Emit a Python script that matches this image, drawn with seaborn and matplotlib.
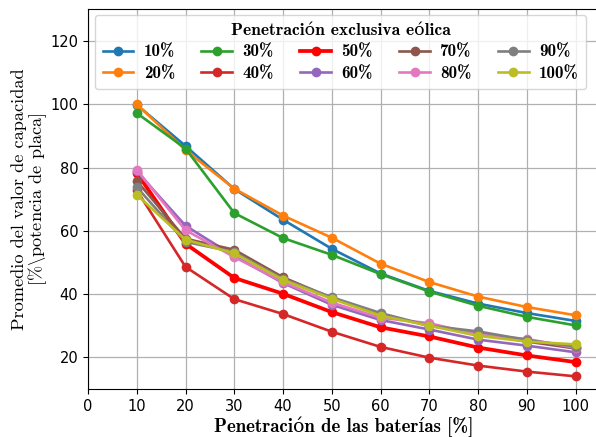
import matplotlib
matplotlib.use("Agg")
import matplotlib.pyplot as plt
import seaborn as sns
import pandas as pd

battery = [10, 20, 30, 40, 50, 60, 70, 80, 90, 100]
series_labels = ["10%", "20%", "30%", "40%", "50%", "60%", "70%", "80%", "90%", "100%"]
p10 = [99.8, 86.8, 73.2, 63.5, 54.3, 46.5, 41.0, 37.0, 34.0, 31.5]
p20 = [100.0, 85.5, 73.3, 64.8, 57.8, 49.6, 43.8, 39.2, 35.9, 33.3]
p30 = [97.2, 86.0, 65.6, 57.7, 52.4, 46.3, 40.8, 36.3, 32.8, 30.1]
p40 = [72.8, 48.6, 38.4, 33.7, 28.1, 23.3, 19.9, 17.4, 15.5, 14.0]
p50 = [78.3, 55.9, 45.1, 40.1, 34.3, 29.5, 26.6, 23.1, 20.6, 18.5]
p60 = [78.8, 61.6, 52.0, 43.5, 36.6, 31.8, 28.8, 25.6, 23.7, 21.6]
p70 = [75.8, 57.5, 54.0, 45.3, 38.8, 33.5, 30.0, 27.5, 25.0, 22.8]
p80 = [79.3, 60.2, 51.7, 43.8, 37.3, 32.5, 30.8, 27.2, 25.8, 23.0]
p90 = [73.8, 56.5, 53.3, 44.8, 39.0, 34.0, 30.0, 28.2, 25.5, 23.4]
p100 = [71.4, 57.2, 52.9, 44.5, 38.5, 33.2, 30.0, 26.8, 25.0, 24.1]
all_series = [p10, p20, p30, p40, p50, p60, p70, p80, p90, p100]

colors = ["#1f77b4", "#ff7f0e", "#2ca02c", "#d62728", "#ff0000",
          "#9467bd", "#8c564b", "#e377c2", "#7f7f7f", "#bcbd22"]

rows = []
for lab, vals in zip(series_labels, all_series):
    for b, v in zip(battery, vals):
        rows.append({"bat": b, "val": v, "serie": lab})
df = pd.DataFrame(rows)

plt.rcParams["mathtext.fontset"] = "cm"
serif_bold = ["cmb10", "DejaVu Serif"]
serif_reg = ["cmr10", "DejaVu Serif"]

fig = plt.figure(figsize=(5.96, 4.37), dpi=100)
ax = fig.add_axes([88 / 596, 1 - 389 / 437, 512 / 596, (389 - 9.3) / 437])

for lab, col in zip(series_labels, colors):
    sub = df[df["serie"] == lab]
    lw = 2.7 if lab == "50%" else 1.9
    sns.lineplot(data=sub, x="bat", y="val", ax=ax, color=col, marker="o",
                 markersize=7, markeredgewidth=0, linewidth=lw, label=lab)

ax.set_xlim(0, 105)
ax.set_ylim(10, 130)
ax.set_xticks(list(range(0, 101, 10)))
ax.set_yticks(list(range(20, 121, 20)))
ax.grid(True, color="#b0b0b0", linewidth=0.9)
ax.set_axisbelow(True)
ax.tick_params(labelsize=10.5)

ax.set_xlabel("Penetración de las baterías [%]", family=serif_bold, fontsize=13.6,
              labelpad=2)
ax.set_ylabel("Promedio del valor de capacidad\n[%$\\backslash$potencia de placa]",
              family=serif_reg, fontsize=13.2, linespacing=0.95, labelpad=1)

leg = ax.legend(ncol=5, loc="upper left", bbox_to_anchor=(0.0137, 0.985),
                title="Penetración exclusiva eólica",
                prop={"family": serif_bold, "size": 12.3},
                title_fontproperties={"family": serif_bold, "size": 12.6},
                columnspacing=1.55, handlelength=1.8, handletextpad=0.6,
                borderaxespad=0.0, borderpad=0.45, labelspacing=0.4,
                fancybox=True)

fig.savefig("out.png", dpi=100)
